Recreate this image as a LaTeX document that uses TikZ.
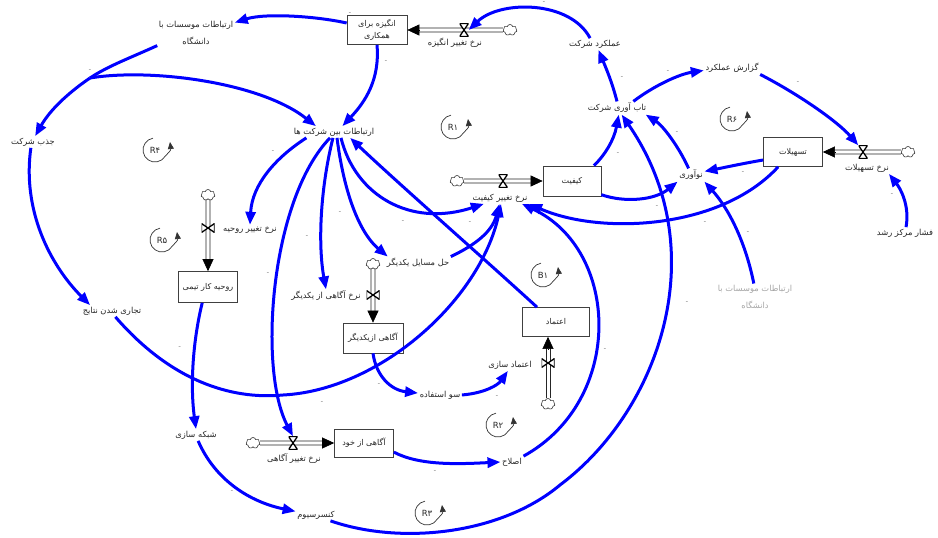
\documentclass[tikz,border=0pt]{standalone}
\usepackage{fontspec}
\usetikzlibrary{arrows.meta,shapes.symbols}
\newfontfamily\pf[Script=Arabic]{DejaVu Sans}
\newfontfamily\lpf{DejaVu Sans}
\TeXXeTstate=1
\newcommand\fatx[1]{\beginR #1\endR}
\newcommand\loopmark[2]{%
  \begin{scope}[shift={(#1,#2)}]
    \draw[loopline] (-100:12) arc (-100:-330:12) .. controls (16,0) .. (15,-8);
  \end{scope}}
\newcommand\fbloop[4]{%
  \node[loopn] (#4) at (#1,#2) {#3};
  \loopmark{#1}{#2}}
\tikzset{
  var/.style={font=\pf\fontsize{8.3}{10}\selectfont, text=black!85, inner sep=1.5pt},
  var2/.style={var, align=center, font=\pf\fontsize{8.3}{17}\selectfont},
  stock/.style={draw=black!75, line width=0.7pt, fill=white, minimum height=29pt,
    inner sep=1pt, align=center, font=\pf\fontsize{8}{12}\selectfont, text=black!85},
  cloudn/.style={cloud, cloud puffs=7, aspect=1.3, draw=black!80, fill=white, line width=0.6pt,
    minimum width=14pt, minimum height=11pt, inner sep=0pt},
  link/.style={draw=blue, line width=3pt, -{Triangle[length=13pt,width=10pt]}},
  linkline/.style={draw=blue, line width=3pt},
  pipel/.style={draw=black!85, line width=0.8pt},
  pipetip/.style={draw=black, line width=0.6pt, -{Triangle[length=12pt,width=11pt]}},
  valveh/.style={inner sep=0pt, minimum width=9pt, minimum height=13pt,
    path picture={\draw[line width=1.3pt, fill=white] (path picture bounding box.north west) --
      (path picture bounding box.north east) -- (path picture bounding box.south west) --
      (path picture bounding box.south east) -- cycle;}},
  valvev/.style={inner sep=0pt, minimum width=13pt, minimum height=9pt,
    path picture={\draw[line width=1.3pt, fill=white] (path picture bounding box.north west) --
      (path picture bounding box.south west) -- (path picture bounding box.north east) --
      (path picture bounding box.south east) -- cycle;}},
  pol/.style={font=\fontsize{6}{6}\selectfont, text=black!70, inner sep=0pt},
  loopn/.style={circle, inner sep=0pt, minimum size=22pt, font=\lpf\fontsize{8.5}{8.5}\selectfont, text=black!85},
  loopline/.style={draw=black!80, line width=0.7pt, -{Triangle[length=7pt,width=6pt]}}
}
\begin{document}
\begin{tikzpicture}[x=1pt,y=-1pt]
\useasboundingbox (0,0) rectangle (938,538);

% stocks
\node[stock, minimum width=60pt] (motiv) at (377,30) {\fatx{انگیزه برای}\\\fatx{همکاری}};
\node[stock, minimum width=58pt, minimum height=30pt] (quality) at (572,181) {\fatx{کیفیت}};
\node[stock, minimum width=59pt] (facil) at (793,152) {\fatx{تسهیلات}};
\node[stock, minimum width=59pt, minimum height=31pt] (morale) at (208,287) {\fatx{روحیه کار تیمی}};
\node[stock, minimum width=60pt, minimum height=30pt] (aware) at (373,338) {\fatx{آگاهی ازیکدیگر}};
\node[stock, minimum width=67pt] (trust) at (556,322) {\fatx{اعتماد}};
\node[stock, minimum width=59pt, minimum height=28pt] (self) at (364,443) {\fatx{آگاهی از خود}};

% clouds
\node[cloudn] (cl1) at (510,30) {};
\node[cloudn] (cl2) at (457,181) {};
\node[cloudn] (cl3) at (908,152) {};
\node[cloudn] (cl4) at (208,195) {};
\node[cloudn] (cl5) at (373,264) {};
\node[cloudn] (cl6) at (548,404) {};
\node[cloudn] (cl7) at (253,443) {};

% pipes (two parallel lines each)
\draw[pipel] ([yshift=2pt]cl1.west) -- ([xshift=11pt,yshift=2pt]motiv.east);
\draw[pipel] ([yshift=-2pt]cl1.west) -- ([xshift=11pt,yshift=-2pt]motiv.east);
\draw[pipetip] ([xshift=12pt]motiv.east) -- (motiv.east);
\draw[pipel] ([yshift=2pt]cl2.east) -- ([xshift=-11pt,yshift=2pt]quality.west);
\draw[pipel] ([yshift=-2pt]cl2.east) -- ([xshift=-11pt,yshift=-2pt]quality.west);
\draw[pipetip] ([xshift=-12pt]quality.west) -- (quality.west);
\draw[pipel] ([yshift=2pt]cl3.west) -- ([xshift=11pt,yshift=2pt]facil.east);
\draw[pipel] ([yshift=-2pt]cl3.west) -- ([xshift=11pt,yshift=-2pt]facil.east);
\draw[pipetip] ([xshift=12pt]facil.east) -- (facil.east);
\draw[pipel] ([xshift=2pt]cl4.south) -- ([xshift=2pt,yshift=11pt]morale.north);
\draw[pipel] ([xshift=-2pt]cl4.south) -- ([xshift=-2pt,yshift=11pt]morale.north);
\draw[pipetip] ([yshift=12pt]morale.north) -- (morale.north);
\draw[pipel] ([xshift=2pt]cl5.south) -- ([xshift=2pt,yshift=11pt]aware.north);
\draw[pipel] ([xshift=-2pt]cl5.south) -- ([xshift=-2pt,yshift=11pt]aware.north);
\draw[pipetip] ([yshift=12pt]aware.north) -- (aware.north);
\draw[pipel] ([xshift=2pt]cl6.north) -- ([xshift=-6pt,yshift=-11pt]trust.south);
\draw[pipel] ([xshift=-2pt]cl6.north) -- ([xshift=-10pt,yshift=-11pt]trust.south);
\draw[pipetip] ([xshift=-8pt,yshift=-12pt]trust.south) -- ([xshift=-8pt]trust.south);
\draw[pipel] ([yshift=2pt]cl7.east) -- ([xshift=-11pt,yshift=2pt]self.west);
\draw[pipel] ([yshift=-2pt]cl7.east) -- ([xshift=-11pt,yshift=-2pt]self.west);
\draw[pipetip] ([xshift=-12pt]self.west) -- (self.west);

% valves
\node[valveh] (v1) at (464,30) {};
\node[valveh] (v2) at (503,181) {};
\node[valveh] (v3) at (863,152) {};
\node[valvev] (v4) at (208,228) {};
\node[valvev] (v5) at (373,295) {};
\node[valvev] (v6) at (548,363) {};
\node[valveh] (v7) at (293,443) {};

% flow labels
\node[var] (ratemot) at (455,43) {\fatx{نرخ تغییر انگیزه}};
\node[var] (rateq) at (500,198) {\fatx{نرخ تغییر کیفیت}};
\node[var] (ratefac) at (867,168) {\fatx{نرخ تسهیلات}};
\node[var] (ratemor) at (250,230) {\fatx{نرخ تغییر روحیه}};
\node[var] (rateaw) at (326,296) {\fatx{نرخ آگاهی از یکدیگر}};
\node[var] (tr) at (510,365) {\fatx{اعتماد سازی}};
\node[var] (rateself) at (294,459) {\fatx{نرخ تغییر آگاهی}};

% variables
\node[var2] (inst) at (196,33) {\fatx{ارتباطات موسسات با}\\\fatx{دانشگاه}};
\node[var] (firmattr) at (33,142) {\fatx{جذب شرکت}};
\node[var] (inter) at (334,132) {\fatx{ارتباطات بین شرکت ها}};
\node[var] (perf) at (595,44) {\fatx{عملکرد شرکت}};
\node[var] (report) at (732,68) {\fatx{گزارش عملکرد}};
\node[var] (resil) at (617,108) {\fatx{تاب آوری شرکت}};
\node[var] (innov) at (691,175) {\fatx{نوآوری}};
\node[var] (press) at (905,233) {\fatx{فشار مرکز رشد}};
\node[var2, text=black!35] (shadow) at (755,297) {\fatx{ارتباطات موسسات با}\\\fatx{دانشگاه}};
\node[var] (comm) at (112,311) {\fatx{تجاری شدن نتایج}};
\node[var] (solve) at (418,263) {\fatx{حل مسایل یکدیگر}};
\node[var] (abuse) at (440,395) {\fatx{سو استفاده}};
\node[var] (network) at (196,435) {\fatx{شبکه سازی}};
\node[var] (consort) at (316,515) {\fatx{کنسرسیوم}};
\node[var] (fix) at (512,462) {\fatx{اصلاح}};

% loops
\fbloop{155}{150}{R۴}{L4}
\fbloop{453}{127}{R۱}{L1}
\fbloop{732}{119}{R۶}{L6}
\fbloop{162}{240}{R۵}{L5}
\fbloop{543}{275}{B۱}{B1}
\fbloop{498}{425}{R۲}{L2}
\fbloop{427}{513}{R۳}{L3}

% links
\coordinate (J) at (90,78);
\coordinate (A1) at (283,395);
\coordinate (A2) at (560,485);
\draw[link] (motiv.167) .. controls (315,16) and (265,13) .. (inst.15);
\draw[linkline] (inst.198) .. controls (130,58) and (108,66) .. (J);
\draw[link] (J) .. controls (68,93) and (50,110) .. (firmattr.70);
\draw[link] (J) .. controls (150,68) and (260,82) .. (inter.162);
\draw[link] (motiv.south) .. controls (380,80) and (365,102) .. (inter.35);
\draw[link] (trust.142) .. controls (480,255) and (400,185) .. (inter.340);
\draw[link] (inter.192) .. controls (275,158) and (252,185) .. (ratemor.north);
\draw[link] (inter.236) .. controls (270,200) and (258,370) .. (v7.north);
\draw[link] (inter.260) .. controls (320,190) and (318,245) .. (rateaw.north);
\draw[link] (inter.297) .. controls (345,200) and (362,235) .. (solve.168);
\draw[link] (inter.320) .. controls (355,195) and (410,228) .. (rateq.200);
\draw[link] (solve.north east) .. controls (475,245) and (492,232) .. (rateq.265);
\draw[link] (comm.300) .. controls (170,380) and (230,400) .. (A1) .. controls (380,390) and (480,300) .. (rateq.280);
\draw[link] (aware.south) .. controls (376,375) and (390,390) .. (abuse.175);
\draw[link] (abuse.east) .. controls (485,393) and (498,385) .. (tr.250);
\draw[link] (self.343) .. controls (420,466) and (460,464) .. (fix.west);
\draw[link] (fix.north east) .. controls (625,400) and (620,250) .. (rateq.345);
\draw[link] (consort.338) .. controls (400,545) and (500,535) .. (A2) .. controls (660,410) and (715,250) .. (resil.305);
\draw[link] (network.290) .. controls (215,480) and (250,502) .. (consort.170);
\draw[link] (morale.250) .. controls (193,340) and (190,385) .. (network.north);
\draw[link] (firmattr.250) .. controls (22,210) and (50,265) .. (comm.165);
\draw[link] (perf.130) .. controls (570,0) and (500,0) .. (v1.east);
\draw[link] (resil.north) .. controls (612,82) and (606,68) .. (perf.300);
\draw[link] (resil.22) .. controls (655,85) and (680,74) .. (report.185);
\draw[link] (report.south east) .. controls (800,95) and (838,122) .. (v3.north west);
\draw[link] (press.80) .. controls (910,205) and (900,188) .. (ratefac.345);
\draw[link] (facil.195) .. controls (740,164) and (722,168) .. (innov.15);
\draw[link] (innov.110) .. controls (678,145) and (662,125) .. (resil.347);
\draw[link] (quality.35) .. controls (605,155) and (614,140) .. (resil.285);
\draw[link] (quality.335) .. controls (625,203) and (655,200) .. (innov.south west);
\draw[link] (shadow.95) .. controls (745,240) and (728,208) .. (innov.south east);
\draw[link] (facil.225) .. controls (720,230) and (600,235) .. (rateq.south east);

% polarity marks
\foreach \px/\py [count=\i] in {90/71, 386/62, 302/118, 273/152, 350/14, 544/3, 622/78,
  668/72, 798/83, 618/154, 677/133, 743/173, 657/207, 705/223, 748/233, 892/195, 687/303,
  605/350, 470/223, 340/213, 403/222, 307/237, 268/274, 180/348, 379/385, 497/397,
  322/403, 435/472, 232/492}
  \node[pol] (p\i) at (\px,\py) {-};
\end{tikzpicture}
\end{document}
